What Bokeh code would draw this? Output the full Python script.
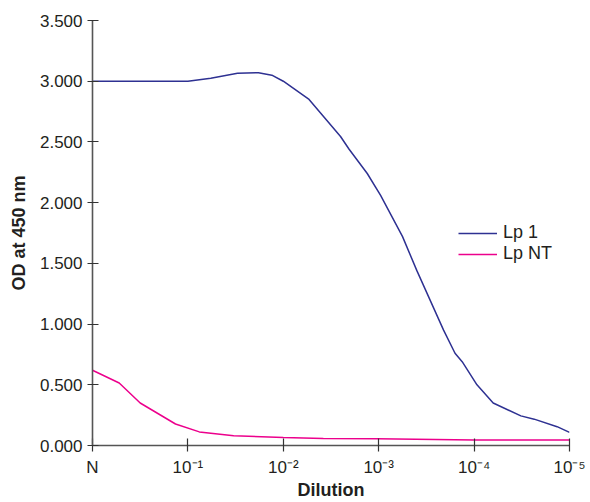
from bokeh.plotting import figure
from bokeh.models import Range1d, Legend, LegendItem, FixedTicker
from bokeh.embed import file_html
from bokeh.resources import INLINE

# x position in decades of dilution (0 = N, 1 = 10^-1, ...)
x_ticks = [0, 1, 2, 3, 4, 5]
x_labels = ["N", "10⁻¹", "10⁻²", "10⁻³", "10⁻⁴", "10⁻⁵"]
y_ticks = [0, 0.5, 1.0, 1.5, 2.0, 2.5, 3.0, 3.5]
y_labels = ["0.000", "0.500", "1.000", "1.500", "2.000", "2.500", "3.000", "3.500"]

lp1_x = [0, 1.0, 1.24, 1.52, 1.74, 1.88, 2.0, 2.27, 2.6, 2.69, 2.88, 3.02, 3.25, 3.40,
         3.68, 3.80, 3.875, 4.03, 4.2, 4.49, 4.63, 4.87, 5.0]
lp1_y = [3.0, 3.0, 3.025, 3.065, 3.07, 3.05, 3.0, 2.85, 2.545, 2.44, 2.24, 2.06, 1.72, 1.44,
         0.95, 0.76, 0.69, 0.50, 0.35, 0.244, 0.217, 0.155, 0.108]

lpnt_x = [0, 0.28, 0.50, 0.87, 1.12, 1.48, 2.0, 2.42, 2.98, 4.0, 5.0]
lpnt_y = [0.62, 0.515, 0.35, 0.177, 0.112, 0.08, 0.065, 0.057, 0.055, 0.046, 0.046]

FONT = "Liberation Sans"
TXT = "#231F20"

p = figure(width=590, height=502, output_backend="svg", toolbar_location=None,
           x_range=Range1d(0, 5), y_range=Range1d(0, 3.5),
           min_border_left=92, min_border_right=21, min_border_top=20, min_border_bottom=52)
p.outline_line_color = None
p.xgrid.grid_line_color = None
p.ygrid.grid_line_color = None

r1 = p.line(lp1_x, lp1_y, line_color="#2E3192", line_width=1.5)
r2 = p.line(lpnt_x, lpnt_y, line_color="#EC008C", line_width=1.5)

for ax in (p.xaxis[0], p.yaxis[0]):
    ax.axis_line_color = "#555555"
    ax.axis_line_width = 1.6
    ax.major_tick_line_color = "#333333"
    ax.major_tick_line_width = 1.2
    ax.minor_tick_line_color = None
    ax.major_label_text_font = FONT
    ax.major_label_text_font_size = "17px"
    ax.major_label_text_color = TXT
    ax.axis_label_text_font = FONT
    ax.axis_label_text_font_size = "18px"
    ax.axis_label_text_font_style = "bold"
    ax.axis_label_text_color = TXT

p.xaxis.ticker = FixedTicker(ticks=x_ticks)
p.xaxis.major_label_overrides = {t: l for t, l in zip(x_ticks, x_labels)}
p.xaxis.major_tick_in = 7
p.xaxis.major_tick_out = 6
p.xaxis.major_label_standoff = 6
p.xaxis.axis_label = "Dilution"
p.xaxis.axis_label_standoff = 0

p.yaxis.ticker = FixedTicker(ticks=y_ticks)
p.yaxis.major_label_overrides = {t: l for t, l in zip(y_ticks, y_labels)}
p.yaxis.major_tick_in = 6
p.yaxis.major_tick_out = 5
p.yaxis.major_label_standoff = 5
p.yaxis.axis_label = "OD at 450 nm"
p.yaxis.axis_label_standoff = 8

legend = Legend(items=[LegendItem(label="Lp 1", renderers=[r1]),
                       LegendItem(label="Lp NT", renderers=[r2])],
                location=(366, 181), border_line_color=None, background_fill_alpha=0,
                glyph_width=39, glyph_height=18, label_height=18, spacing=0, padding=0,
                label_text_font=FONT, label_text_font_size="18px",
                label_text_color=TXT, label_standoff=6, margin=0)
p.add_layout(legend)

open("out.html", "w").write(file_html(p, INLINE))
